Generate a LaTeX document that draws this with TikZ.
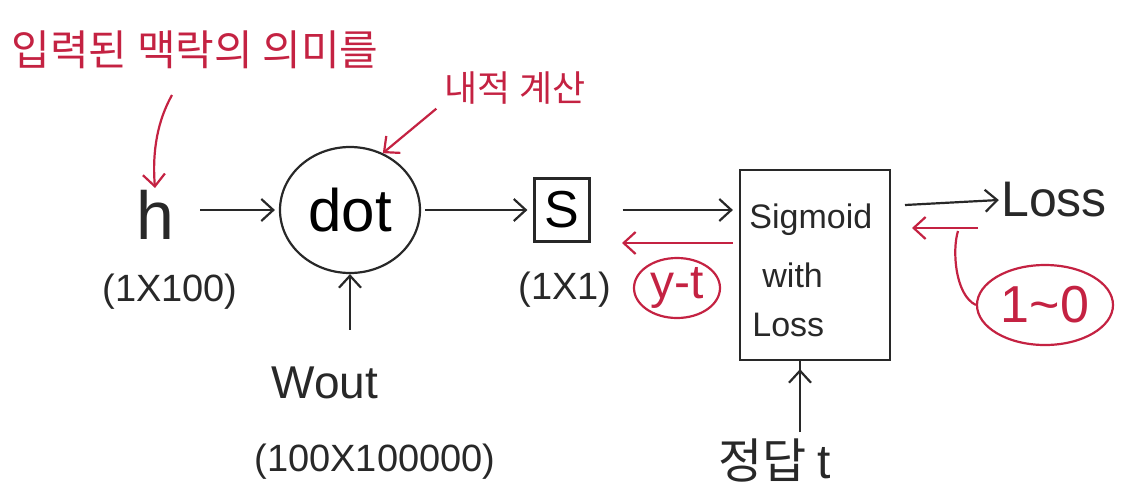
\documentclass[tikz,border=0pt]{standalone}
\usepackage{fontspec}
\setmainfont{Liberation Sans}
\newfontfamily\kr{Noto Sans CJK KR}
\usetikzlibrary{arrows.meta,shapes.geometric}
\definecolor{pen}{RGB}{40,40,40}
\definecolor{redpen}{RGB}{196,34,66}
\tikzset{
  ink/.style={draw=pen, line width=1.1pt},
  arr/.style={pen, line width=1.1pt, -{Straight Barb[length=6pt,width=11pt]}},
  redarr/.style={redpen, line width=1.1pt, -{Straight Barb[length=6pt,width=11pt]}},
  redline/.style={redpen, line width=1.1pt},
  lbl/.style={pen, inner sep=1pt},
  rlbl/.style={redpen, inner sep=1pt},
}
\newcommand{\fs}[1]{\fontsize{#1}{#1}\selectfont}
\begin{document}
\begin{tikzpicture}[x=0.5pt,y=-0.5pt]
\useasboundingbox (0,0) rectangle (1125,488);

% annotations in red
\node[rlbl] (title) at (195,50) {\kr\fs{21pt}입력된 맥락의 의미를};
\node[rlbl] (inner) at (515,88) {\kr\fs{18pt}내적 계산};

% main chain
\node[lbl] (h) at (155,215) {\fs{34pt}h};
\node[lbl] (hdim) at (170,292) {\fs{19pt}(1X100)};
\node[ink, ellipse, minimum width=70pt, minimum height=63pt] (dot) at (350,210) {\fs{30pt}dot};
\node[lbl] (wout) at (325,383) {\fs{23pt}Wout};
\node[lbl] (wdim) at (375,462) {\fs{19pt}(100X100000)};
\node[ink, rectangle, minimum width=27.5pt, minimum height=31.5pt, inner sep=0pt] (s) at (562,210) {\fs{26pt}S};
\node[lbl] (sdim) at (565,290) {\fs{19pt}(1X1)};
\node[ink, rectangle, minimum width=75pt, minimum height=95pt, inner sep=0pt] (sig) at (815,265) {};
\node[lbl, anchor=west] (t1) at (747,220) {\fs{17pt}Sigmoid};
\node[lbl, anchor=west] (t2) at (760,275) {\fs{17pt}with};
\node[lbl, anchor=west] (t3) at (750,325) {\fs{17pt}Loss};
\node[lbl] (loss) at (1054,200) {\fs{25pt}Loss};
\node[lbl] (ans) at (775,460) {\kr\fs{24pt}정답 \rmfamily t};

% red ovals
\node[draw=redpen, line width=1.1pt, ellipse, minimum width=43pt, minimum height=30pt, inner sep=0pt] (yt) at (677,288) {\color{redpen}\fs{24pt}y-t};
\node[draw=redpen, line width=1.1pt, ellipse, minimum width=68pt, minimum height=40pt, inner sep=0pt] (rng) at (1045,305) {\color{redpen}\fs{26pt}1\textasciitilde 0};

% forward arrows
\draw[arr] ([xshift=12pt]h.east |- dot.west) -- ([xshift=-2pt]dot.west);
\draw[arr] ([xshift=2pt]dot.east) -- ([xshift=-3pt]s.west);
\draw[arr] ([xshift=16pt]s.east) -- ([xshift=-3pt]sig.west |- s.east);
\coordinate (sigout) at (905,205);
\draw[arr] (sigout) -- (loss.west);
\draw[arr] (dot.south |- wout.north) ++(0,-35) -- (dot.south);
\coordinate (ansup) at (800,432);
\draw[arr] (ansup) -- (ansup |- sig.south) ++(0,8);

% backward (red) arrows
\coordinate (ytfrom) at (733,243);
\coordinate (ytto) at (622,243);
\draw[redarr] (ytfrom) -- (ytto);
\coordinate (rfrom) at (978,228);
\coordinate (rto) at (912,228);
\draw[redarr] (rfrom) -- (rto);
\coordinate (rjoin) at (958,231);
\draw[redline] (rng.west) .. controls (955,295) and (952,250) .. (rjoin);

% red pointers from the notes
\draw[redarr] (172,95) .. controls (158,120) and (152,150) .. (h.north);
\draw[redarr] (inner.south west) ++(-6,2) -- (dot.60);
\end{tikzpicture}
\end{document}
